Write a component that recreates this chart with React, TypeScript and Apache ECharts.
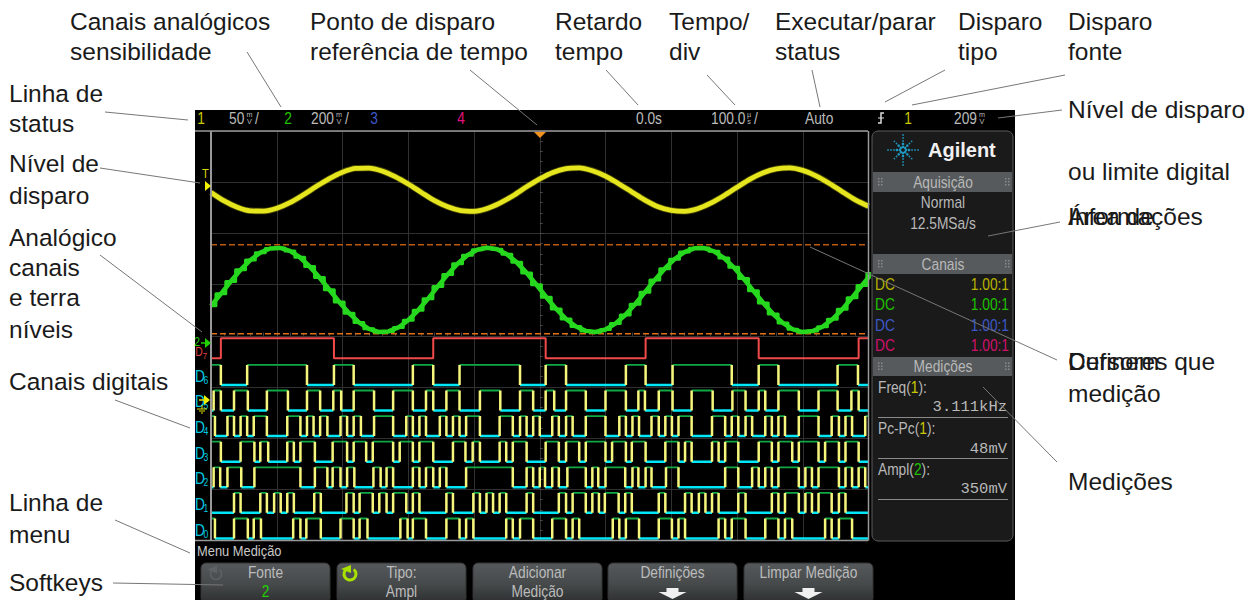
import React, { useEffect, useRef } from "react";
import * as echarts from "echarts";

// ---- analog traces (time in µs, amplitude in divisions from screen centre)
const yellowTimes = [-500,-480,-460,-440,-420,-400,-380,-360,-340,-320,-300,-280,-260,-240,-220,-200,-180,-160,-140,-120,-100,-80,-60,-40,-20,0,20,40,60,80,100,120,140,160,180,200,220,240,260,280,300,320,340,360,380,400,420,440,460,480,500];
const yellowValues = [2.80,2.635,2.51,2.44,2.435,2.49,2.60,2.75,2.915,3.07,3.195,3.27,3.275,3.22,3.11,2.965,2.80,2.64,2.52,2.445,2.43,2.485,2.595,2.74,2.91,3.065,3.19,3.265,3.28,3.225,3.12,2.97,2.81,2.65,2.52,2.45,2.43,2.48,2.59,2.735,2.90,3.06,3.185,3.26,3.28,3.23,3.125,2.98,2.815,2.655,2.53];
const greenTimes = [-500,-485,-470,-455,-440,-425,-410,-395,-380,-365,-350,-335,-320,-305,-290,-275,-260,-245,-230,-215,-200,-185,-170,-155,-140,-125,-110,-95,-80,-65,-50,-35,-20,-5,10,25,40,55,70,85,100,115,130,145,160,175,190,205,220,235,250,265,280,295,310,325,340,355,370,385,400,415,430,445,460,475,490,505];
const greenValues = [0.585,0.819,1.059,1.288,1.481,1.623,1.704,1.716,1.658,1.534,1.355,1.138,0.899,0.661,0.442,0.261,0.135,0.075,0.084,0.162,0.304,0.497,0.722,0.963,1.198,1.407,1.572,1.68,1.72,1.689,1.591,1.434,1.228,0.996,0.753,0.524,0.327,0.182,0.095,0.074,0.123,0.237,0.406,0.615,0.852,1.09,1.31,1.496,1.634,1.708,1.713,1.649,1.52,1.337,1.116,0.878,0.64,0.424,0.247,0.126,0.072,0.091,0.176,0.322,0.516,0.744,0.984,1.218];
const cursorLevels = [1.78, 0.04];
const timeRange = [-500, 500];

// ---- digital channels: edge times in µs, and the level each one starts at
const d7Edges = [-485,-313,-162,9,161,333,485];
const d6Edges = [-485,-445,-354,-313,-283,-193,-162,-122,-30,9,40,131,161,202,292,333,363,453,484];
const d5Edges = [-496,-485,-465,-444,-415,-383,-354,-334,-314,-302,-283,-252,-223,-193,-173,-162,-142,-122,-91,-60,-30,-10,9,22,40,70,100,131,150,160,181,202,231,263,293,313,333,343,363,394,424,453,474,485];
const d4Edges = [-494,-475,-465,-455,-445,-435,-415,-384,-364,-354,-344,-334,-323,-303,-293,-283,-272,-252,-223,-203,-193,-183,-173,-152,-142,-132,-122,-112,-91,-61,-41,-30,-20,-10,0,19,29,40,50,70,100,121,131,141,151,170,181,191,201,211,231,262,282,292,302,313,323,343,353,363,373,394,424,444,455,465,475,495];
const d3Edges = [-485,-455,-434,-425,-413,-384,-374,-364,-342,-315,-293,-283,-264,-254,-223,-213,-193,-183,-162,-132,-113,-102,-91,-61,-51,-41,-20,9,29,40,60,70,100,110,131,140,161,191,211,221,231,262,272,282,302,333,353,363,384,394,424,434,455,465,485];
const d2Edges = [-496,-486,-475,-454,-434,-364,-342,-323,-315,-303,-293,-282,-253,-242,-233,-223,-193,-183,-173,-162,-152,-142,-112,-41,-20,-10,0,8,19,29,42,70,80,89,100,130,141,150,161,170,192,211,282,302,323,333,343,353,363,394,404,414,424,455,465,475,485,495];
const d1Edges = [-465,-455,-425,-415,-404,-394,-384,-374,-343,-333,-294,-283,-274,-254,-244,-233,-223,-203,-193,-183,-142,-132,-101,-91,-81,-71,-61,-51,-20,-10,29,40,50,70,80,90,99,120,130,140,181,191,221,231,242,252,262,272,302,313,353,363,373,394,404,414,424,444,455,465];
const d0Edges = [-494,-465,-444,-435,-424,-375,-364,-355,-333,-303,-283,-274,-262,-212,-201,-193,-173,-142,-122,-112,-101,-51,-41,-30,-10,19,40,50,60,111,121,131,151,181,201,211,221,272,282,292,313,343,363,373,384,434,444,455,475];
const digitalEdges = [d6Edges, d5Edges, d4Edges, d3Edges, d2Edges, d1Edges, d0Edges];
const digitalStartHigh = [true, false, true, true, false, false, true];
const digitalLowLevels = [-0.96, -1.46, -1.96, -2.46, -2.96, -3.46, -3.96];
const digitalSwing = 0.39;
const d7Low = -0.44;

// ---- texts
const calloutLabels = [
  ["Canais analógicos", 70, 21], ["sensibilidade", 70, 51],
  ["Ponto de disparo", 310, 21], ["referência de tempo", 310, 51],
  ["Retardo", 555, 21], ["tempo", 555, 51],
  ["Tempo/", 669, 21], ["div", 669, 51],
  ["Executar/parar", 775, 21], ["status", 775, 51],
  ["Disparo", 958, 21], ["tipo", 958, 51],
  ["Disparo", 1068, 21], ["fonte", 1068, 51],
  ["Linha de", 9, 93], ["status", 9, 123],
  ["Nível de disparo", 1068, 109],
  ["Nível de", 9, 163], ["disparo", 9, 195],
  ["ou limite digital", 1068, 171],
  ["Informações", 1068, 216], ["Área de", 1068, 216],
  ["Analógico", 9, 237], ["canais", 9, 267], ["e terra", 9, 297], ["níveis", 9, 329],
  ["Cursores que", 1068, 361], ["Definem", 1068, 361], ["medição", 1068, 393],
  ["Canais digitais", 9, 381],
  ["Medições", 1068, 481],
  ["Linha de", 9, 502], ["menu", 9, 534],
  ["Softkeys", 9, 582],
] as [string, number, number][];
const leaderLines = [
  [247,52,281,107],[470,70,537,125],[606,70,638,105],[707,75,735,105],[812,70,820,107],
  [945,70,885,102],[1065,75,912,105],[1062,110,998,118],[988,236,1060,222],[810,247,1057,360],
  [983,387,1057,462],[105,112,188,120],[100,168,200,183],[100,255,202,332],[115,400,190,428],
  [115,520,190,553],[113,583,223,585],
];
const softkeyTops = [
  ["Fonte", "2"], ["Tipo:", "Ampl"], ["Adicionar", "Medição"], ["Definições", ""], ["Limpar Medição", ""],
];
const softkeyLeft = [201, 337, 473, 608, 744];
const channelRows = [
  ["#b8b400", 284], ["#20c000", 304], ["#3c58c8", 325], ["#d0106c", 345],
] as [string, number][];

const SCOPE = '"Liberation Sans",Arial,sans-serif';
const LABEL = '"Liberation Sans",Arial,sans-serif';
const MONO = '"Liberation Mono",monospace';
const NARROW = 0.86;

function buildDigital(edges: number[], startHigh: boolean, lo: number) {
  const hi = lo + digitalSwing;
  const low: any[] = [], high: any[] = [], vertical: any[] = [];
  const all = [timeRange[0], ...edges, timeRange[1]];
  let up = startHigh;
  for (let i = 0; i < all.length - 1; i++) {
    const y = up ? hi : lo;
    (up ? high : low).push([all[i], y], [all[i + 1], y], ["-", "-"]);
    if (i < all.length - 2) vertical.push([all[i + 1], lo], [all[i + 1], hi], ["-", "-"]);
    up = !up;
  }
  return { low, high, vertical };
}

function squareWave(edges: number[], lo: number) {
  const hi = lo + digitalSwing;
  const pts: number[][] = [[timeRange[0], lo]];
  let up = false;
  edges.forEach((t) => {
    pts.push([t, up ? hi : lo]);
    up = !up;
    pts.push([t, up ? hi : lo]);
  });
  pts.push([timeRange[1], up ? hi : lo]);
  return pts;
}

function txt(x: number, y: number, text: string, fill: string, fontSize = 16, align = "left", extra: any = {}, scaleX = NARROW) {
  return {
    type: "text", x, y, scaleX, z: 20, silent: true,
    style: { text, fill, fontSize, fontFamily: SCOPE, align, verticalAlign: "middle", ...extra },
  };
}

function stacked(x: number, y: number, top: string, bottom: string, fill: string) {
  return [
    txt(x, y - 3.5, top, fill, 8, "center", {}, 0.9),
    txt(x, y + 3.5, bottom, fill, 8, "center", {}, 0.9),
  ];
}

function lineEl(x1: number, y1: number, x2: number, y2: number, stroke: string, lineWidth = 1, z = 20) {
  return { type: "line", z, silent: true, shape: { x1, y1, x2, y2 }, style: { stroke, lineWidth } };
}

function makeGraphics() {
  const els: any[] = [];
  // instrument background
  els.push({ type: "rect", z: -5, silent: true, shape: { x: 195, y: 110, width: 820, height: 490 }, style: { fill: "#000" } });

  // screen border lines reaching into the left margin
  els.push(lineEl(195, 131, 868, 131, "#999", 1.5, 6));
  els.push(lineEl(195, 540.5, 868, 540.5, "#999", 1.5, 6));
  els.push(lineEl(211, 131, 211, 540.5, "#999", 2, 6));
  els.push(lineEl(868.5, 131, 868.5, 540.5, "#999", 1.5, 6));

  // status line
  els.push(txt(201, 118, "1", "#c8c800", 16, "center"));
  els.push(txt(229, 118, "50", "#bbb"));
  els.push(...stacked(249.5, 118, "m", "V", "#bbb"));
  els.push(txt(255, 118, "/", "#bbb"));
  els.push(txt(288, 118, "2", "#22c000", 16, "center"));
  els.push(txt(311, 118, "200", "#bbb"));
  els.push(...stacked(339, 118, "m", "V", "#bbb"));
  els.push(txt(345, 118, "/", "#bbb"));
  els.push(txt(374, 118, "3", "#3c58c8", 16, "center"));
  els.push(txt(461, 118, "4", "#e0107c", 16, "center"));
  els.push(txt(636, 118, "0.0s", "#bbb"));
  els.push(txt(711, 118, "100.0", "#bbb"));
  els.push(...stacked(749, 118, "µ", "s", "#bbb"));
  els.push(txt(754, 118, "/", "#bbb"));
  els.push(txt(805, 118, "Auto", "#bbb"));
  els.push({ type: "polyline", z: 20, silent: true, shape: { points: [[878, 123], [881, 123], [881, 113], [884, 113]] }, style: { stroke: "#ddd", lineWidth: 1.5, fill: "none" } });
  els.push(lineEl(878, 118, 884, 118, "#ddd", 1));
  els.push(txt(908, 118, "1", "#c8c800", 16, "center"));
  els.push(txt(954, 118, "209", "#bbb"));
  els.push(...stacked(982, 118, "m", "V", "#bbb"));

  // markers on the screen
  els.push({ type: "polygon", z: 21, silent: true, shape: { points: [[534, 132], [546, 132], [540, 138]] }, style: { fill: "#f09020" } });
  els.push(txt(205.5, 174, "T", "#d8d800", 13, "center"));
  els.push({ type: "polygon", z: 21, silent: true, shape: { points: [[205, 181], [211, 186], [205, 191]] }, style: { fill: "#f0f000" } });
  // channel 2 and D7 tags
  els.push(txt(197, 342, "2", "#20d000", 12, "center"));
  els.push({ type: "polygon", z: 21, silent: true, shape: { points: [[205, 338], [211, 343], [205, 348]] }, style: { fill: "#20d000" } });
  els.push(lineEl(201, 343, 205, 343, "#20d000", 1.5, 21));
  els.push(txt(199, 352, "D", "#e04040", 12, "center"));
  els.push(txt(205, 356, "7", "#e04040", 9, "center"));
  // digital labels
  [[6, 376], [5, 401], [4, 427], [3, 453], [2, 478], [1, 504], [0, 530]].forEach(([n, y]) => {
    els.push(txt(200, y, "D", "#00c8e0", 16, "center"));
    els.push(txt(206, y + 5, String(n), "#00c8e0", 10, "center"));
  });
  els.push({ type: "polygon", z: 21, silent: true, shape: { points: [[204, 395], [210, 400], [204, 405]] }, style: { fill: "#f0f000" } });
  els.push(lineEl(199, 400, 205, 400, "#e0e000", 1.5, 21));
  els.push(lineEl(202, 405, 202, 409, "#e0e000", 1, 21));
  els.push(lineEl(197, 409, 207, 409, "#e0e000", 1, 21));
  els.push(lineEl(199, 411, 205, 411, "#e0e000", 1, 21));
  els.push(lineEl(201, 413, 203, 413, "#e0e000", 1, 21));

  // side panel
  els.push({ type: "rect", z: 5, silent: true, shape: { x: 872, y: 131, width: 141, height: 410, r: 6 }, style: { fill: "#1a1a1a", stroke: "#5c5c5c", lineWidth: 1 } });
  els.push({ type: "rect", z: 5, silent: true, shape: { x: 873, y: 172, width: 139, height: 20 }, style: { fill: "#565a5c" } });
  els.push({ type: "rect", z: 5, silent: true, shape: { x: 873, y: 254, width: 139, height: 20 }, style: { fill: "#565a5c" } });
  els.push({ type: "rect", z: 5, silent: true, shape: { x: 873, y: 357, width: 139, height: 19 }, style: { fill: "#565a5c" } });
  [182, 264, 366.5].forEach((y) => {
    [878, 1005].forEach((x) => {
      for (let i = 0; i < 2; i++) for (let j = 0; j < 3; j++) {
        els.push({ type: "rect", z: 6, silent: true, shape: { x: x + i * 3, y: y - 4 + j * 3, width: 1.5, height: 1.5 }, style: { fill: "#8a8a8a" } });
      }
    });
  });
  // Agilent spark
  const rays = [[1, 0, 15], [-1, 0, 15], [0, 1, 15], [0, -1, 15], [0.72, 0.72, 12], [-0.72, 0.72, 12], [0.72, -0.72, 12], [-0.72, -0.72, 12]];
  rays.forEach(([dx, dy, len]) => {
    for (let d = 3; d <= len; d += 3) {
      els.push({ type: "circle", z: 21, silent: true, shape: { cx: 903 + dx * d, cy: 150 + dy * d, r: d < 7 ? 1.3 : 0.8 }, style: { fill: "#2098c0" } });
    }
  });
  els.push(txt(928, 150, "Agilent", "#f0f0f0", 20, "left", { fontFamily: LABEL, fontWeight: "bold" }, 1));
  els.push(txt(943, 182, "Aquisição", "#b8b8b8", 16, "center"));
  els.push(txt(943, 202, "Normal", "#b8b8b8", 16, "center"));
  els.push(txt(943, 223, "12.5MSa/s", "#b8b8b8", 16, "center"));
  els.push(txt(943, 264, "Canais", "#b8b8b8", 16, "center"));
  channelRows.forEach(([c, y]) => {
    els.push(txt(875, y, "DC", c));
    els.push(txt(1009, y, "1.00:1", c, 16, "right"));
  });
  els.push(txt(943, 366, "Medições", "#b8b8b8", 16, "center"));
  const gray = "#b8b8b8";
  const meas = (y: number, label: string, ch: string, c: string) => {
    els.push(txt(878, y, `{a|${label}(}{c|${ch}}{a|):}`, gray, 16, "left", {
      rich: {
        a: { fill: gray, fontSize: 16, fontFamily: SCOPE },
        c: { fill: c, fontSize: 16, fontFamily: SCOPE },
      },
    }));
  };
  const value = (y: number, t: string) => els.push(txt(1007, y, t, gray, 15.5, "right", { fontFamily: MONO }, 1));
  meas(387, "Freq", "1", "#c8c800");
  value(407, "3.111kHz");
  els.push(lineEl(878, 417.5, 1008, 417.5, "#8a8a8a", 1));
  meas(428, "Pc-Pc", "1", "#c8c800");
  value(449, "48mV");
  els.push(lineEl(878, 458.5, 1008, 458.5, "#8a8a8a", 1));
  meas(469, "Ampl", "2", "#22c000");
  value(489, "350mV");
  els.push(lineEl(878, 499.5, 1008, 499.5, "#8a8a8a", 1));

  // menu line
  els.push(txt(197, 551, "Menu Medição", "#c8c8c8", 15));

  // softkeys
  softkeyTops.forEach(([a, b], i) => {
    const x = softkeyLeft[i];
    els.push({
      type: "rect", z: 5, silent: true, shape: { x, y: 563, width: 129, height: 40, r: 5 },
      style: {
        fill: new echarts.graphic.LinearGradient(0, 0, 0, 1, [
          { offset: 0, color: "#55595b" }, { offset: 0.55, color: "#45494a" }, { offset: 1, color: "#2c2e2f" },
        ]),
        stroke: "#333", lineWidth: 1,
      },
    });
    const cx = x + 64.5;
    els.push(txt(cx, 572, a, "#bcbcbc", 16, "center"));
    if (b) els.push(txt(cx, 591, b, i === 0 ? "#22d000" : "#bcbcbc", 16, "center"));
    if (!b) {
      els.push({
        type: "polygon", z: 21, silent: true,
        shape: { points: [[cx - 14, 592], [cx - 6, 592], [cx - 6, 588], [cx + 6, 588], [cx + 6, 592], [cx + 14, 592], [cx, 599]] },
        style: { fill: "#f0f0f0" },
      });
    }
  });
  const arrow = (cx: number, cy: number, r: number, c: string, w: number) => {
    els.push({ type: "arc", z: 21, silent: true, shape: { cx, cy, r, startAngle: -0.9, endAngle: 4.4, clockwise: true }, style: { stroke: c, lineWidth: w, fill: "none" } });
    els.push({ type: "polygon", z: 21, silent: true, shape: { points: [[cx - r - 3, cy - r + 1], [cx + 1, cy - r - 3], [cx + 1, cy - r + 5]] }, style: { fill: c } });
  };
  arrow(216, 574, 5.5, "#5e6264", 1.5);
  arrow(350, 574, 6, "#a8e000", 3);

  // callouts
  calloutLabels.forEach(([t, x, y]) => {
    els.push({ type: "text", z: 30, silent: true, x, y, style: { text: t, fill: "#1a1a1a", fontSize: 24.5, fontFamily: LABEL, verticalAlign: "middle" } });
  });
  leaderLines.forEach(([a, b, c, d]) => els.push(lineEl(a, b, c, d, "#777", 1, 30)));
  return els;
}

function makeOption(): any {
  const series: any[] = [];
  const gridLine = { show: true, lineStyle: { color: "#303030", width: 1 } };
  const base = { type: "line", silent: true, showSymbol: false };
  cursorLevels.forEach((lvl, i) => {
    series.push({
      ...base, name: `Cursor ${i + 1}`, z: 3,
      data: [[timeRange[0], lvl], [timeRange[1], lvl]],
      lineStyle: { color: i === 0 ? "#b85a10" : "#e07010", width: 1.5, type: [6, 3] },
    });
  });
  const yellowData = yellowTimes.map((t, i) => [t, yellowValues[i]]);
  const greenData = greenTimes.map((t, i) => [t, greenValues[i]]);
  series.push({ ...base, name: "Canal 1 halo", smooth: 0.3, z: 4, data: yellowData, lineStyle: { color: "#a8a810", width: 6.5, opacity: 0.4 } });
  series.push({ ...base, name: "Canal 1", smooth: 0.3, z: 4, data: yellowData, lineStyle: { color: "#e6e61e", width: 4.8 } });
  series.push({ ...base, name: "Canal 2", z: 4, data: greenData, lineStyle: { color: "#26d81e", width: 4.5, join: "round" } });
  series.push({ ...base, name: "Canal 2 degraus", step: "middle", z: 4, data: greenData, lineStyle: { color: "#26d81e", width: 3, join: "round" } });
  series.push({ ...base, name: "D7", z: 4, data: squareWave(d7Edges, d7Low), lineStyle: { color: "#f04a4a", width: 2 } });
  digitalEdges.forEach((edges, i) => {
    const { low, high, vertical } = buildDigital(edges, digitalStartHigh[i], digitalLowLevels[i]);
    const name = `D${6 - i}`;
    series.push({ ...base, name: name + " alto", z: 4, data: high, lineStyle: { color: "#10a844", width: 1.8 } });
    series.push({ ...base, name: name + " baixo", z: 4, data: low, lineStyle: { color: "#00e8f8", width: 2.5 } });
    series.push({ ...base, name: name + " borda", z: 5, data: vertical, lineStyle: { color: "#f6f67c", width: 2.5 } });
  });
  return {
    animation: false,
    backgroundColor: "#ffffff",
    grid: { left: 211, top: 131, width: 657.5, height: 409.5, show: true, backgroundColor: "#000", borderWidth: 0, z: 0 },
    xAxis: {
      type: "value", min: timeRange[0], max: timeRange[1], interval: 100,
      axisLabel: { show: false },
      axisLine: { show: true, onZero: true, lineStyle: { color: "#333" } },
      axisTick: { show: true, inside: true, length: 4, lineStyle: { color: "#444" } },
      minorTick: { show: true, splitNumber: 5, length: 3, lineStyle: { color: "#444" } },
      splitLine: gridLine,
    },
    yAxis: {
      type: "value", min: -4, max: 4, interval: 1,
      axisLabel: { show: false },
      axisLine: { show: true, onZero: true, lineStyle: { color: "#333" } },
      axisTick: { show: true, inside: true, length: 4, lineStyle: { color: "#444" } },
      minorTick: { show: true, splitNumber: 5, length: 3, lineStyle: { color: "#444" } },
      splitLine: gridLine,
    },
    series,
    graphic: { elements: makeGraphics() },
  };
}

export default function App() {
  const ref = useRef<HTMLDivElement>(null);
  useEffect(() => {
    if (!ref.current) return;
    const chart = echarts.init(ref.current, undefined, { renderer: "svg" });
    chart.setOption(makeOption());
    return () => chart.dispose();
  }, []);
  return <div ref={ref} style={{ position: "fixed", left: 0, top: 0, width: 1249, height: 600 }} />;
}
